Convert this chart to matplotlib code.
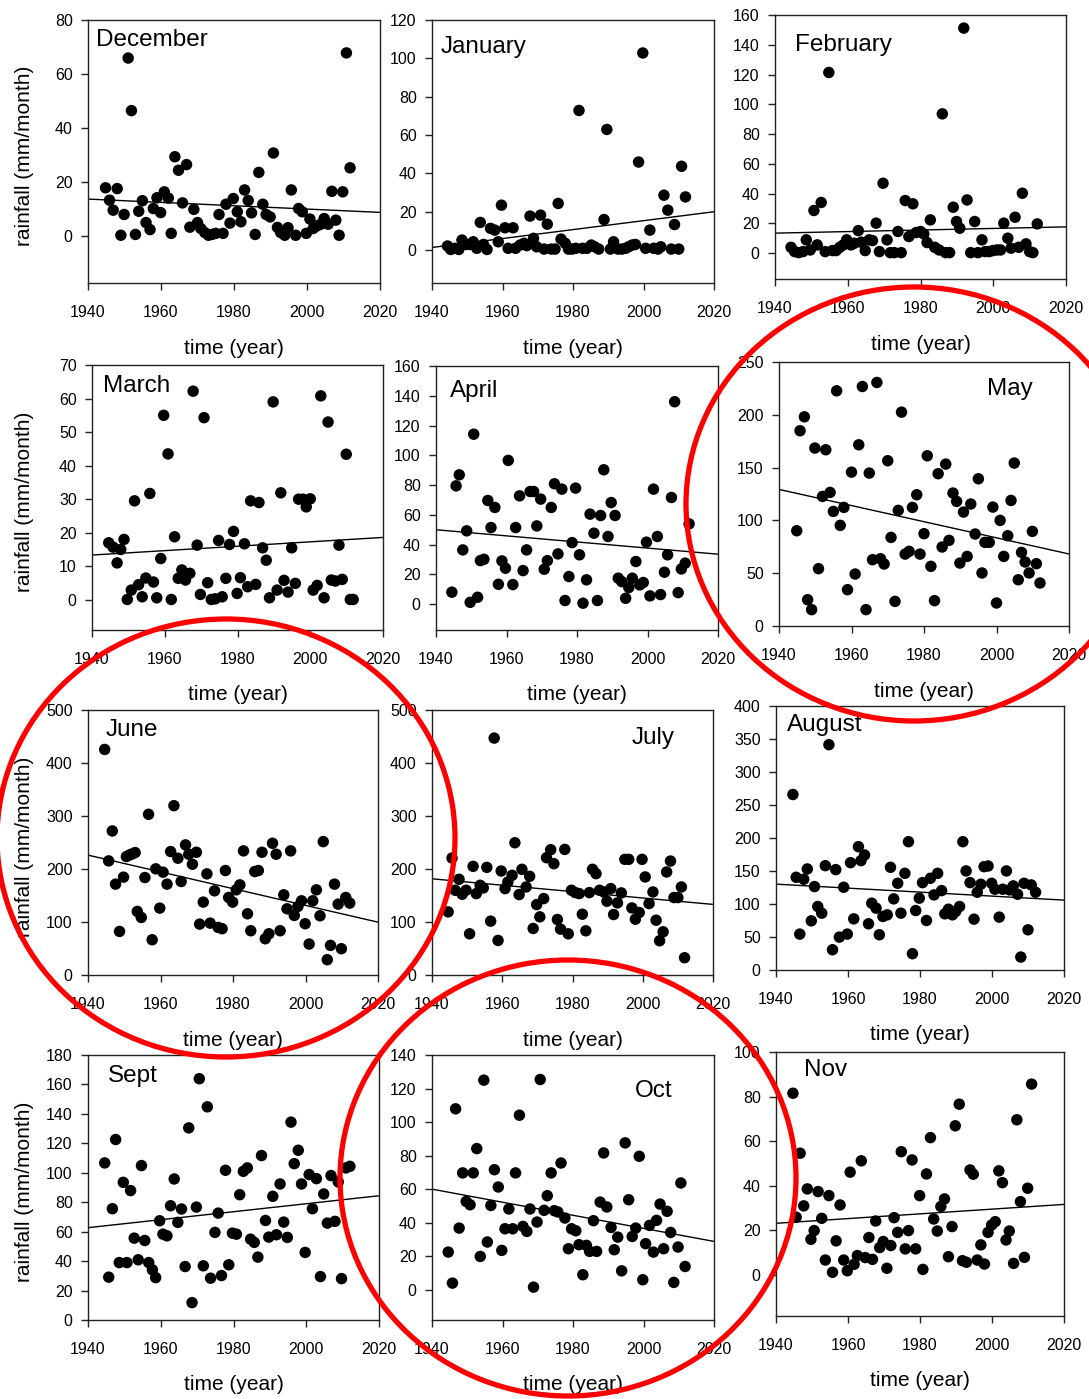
import numpy as np
import matplotlib
matplotlib.use("Agg")
import matplotlib.pyplot as plt
from matplotlib.patches import Ellipse

plt.rcParams['font.family'] = ['Liberation Sans', 'DejaVu Sans']

# ---------------- data (year, rainfall mm/month) ----------------
dec_year = [1944.8,1945.9,1946.9,1948.0,1949.0,1949.9,1951.0,1951.9,1953.0,1953.9,1954.9,1955.9,1957.0,1957.9,1958.9,1959.9,1960.9,1962.0,1962.8,1963.8,1964.8,1965.9,1967.0,1967.9,1969.0,1970.0,1970.9,1972.0,1973.0,1974.0,1975.0,1975.9,1977.0,1977.8,1978.9,1979.8,1980.9,1981.9,1982.9,1983.9,1984.8,1985.8,1986.8,1987.9,1988.8,1989.9,1990.8,1991.9,1992.8,1993.9,1994.8,1995.7,1996.9,1997.7,1998.7,1999.8,2000.8,2001.7,2002.8,2003.8,2004.7,2005.8,2006.8,2007.9,2008.8,2009.8,2010.8,2011.8]
dec_rain = [17.8,13.2,9.5,17.5,0.2,7.9,65.9,46.4,0.5,9.1,13.0,4.9,2.3,10.1,14.1,8.6,16.3,14.0,0.9,29.3,24.3,12.2,26.4,3.2,9.8,4.9,2.7,1.2,0.2,0.5,0.9,7.9,0.9,11.7,4.7,13.8,8.9,5.2,17.0,13.1,8.5,0.5,23.5,11.7,7.9,7.0,30.7,3.1,1.2,0.2,3.0,17.0,0.2,10.1,8.9,0.9,6.2,2.7,3.7,4.3,6.4,4.3,16.5,5.8,0.2,16.3,67.8,25.2]

jan_year = [1944.4,1945.3,1946.5,1947.6,1948.5,1949.7,1950.8,1951.7,1952.7,1953.7,1954.6,1955.6,1956.6,1957.8,1958.8,1959.7,1960.7,1961.6,1963.0,1963.7,1965.0,1966.1,1966.9,1967.8,1968.8,1969.7,1970.8,1971.8,1972.7,1973.8,1974.9,1975.8,1976.6,1977.8,1978.7,1979.7,1980.8,1981.7,1982.7,1983.9,1985.2,1986.1,1987.3,1988.8,1989.6,1990.6,1991.5,1992.8,1993.9,1994.9,1995.8,1996.8,1997.7,1998.6,1999.8,2000.6,2001.8,2002.9,2004.1,2004.9,2005.8,2006.9,2007.9,2008.8,2010.0,2010.8,2011.9]
jan_rain = [2.1,0.3,0.9,0.3,5.2,2.9,2.9,4.3,0.9,14.4,2.9,0.3,11.3,10.4,4.3,23.4,11.6,0.9,11.6,0.9,2.6,3.5,2.3,17.7,6.1,1.7,18.2,0.5,13.5,0.5,0.5,24.3,5.7,3.5,0.5,0.5,0.9,72.8,0.9,0.9,2.6,1.7,0.5,15.9,62.9,0.5,4.3,0.5,0.5,0.9,1.7,2.6,2.9,45.9,102.8,0.9,10.4,0.9,0.5,1.7,28.6,20.8,0.5,13.3,0.5,43.7,27.7]

feb_year = [1944.4,1945.4,1946.5,1947.7,1948.6,1949.7,1950.7,1951.6,1952.7,1953.8,1954.8,1955.8,1956.8,1957.8,1958.8,1959.7,1960.9,1961.8,1962.9,1963.7,1964.8,1965.9,1966.8,1967.8,1968.7,1969.7,1970.8,1971.7,1972.8,1973.8,1974.7,1975.8,1976.8,1977.9,1978.8,1980.0,1980.9,1981.8,1982.7,1983.9,1985.1,1986.0,1986.9,1988.0,1989.0,1989.9,1990.8,1991.9,1992.8,1993.8,1994.9,1995.8,1996.9,1997.8,1998.9,1999.9,2001.0,2002.0,2002.9,2004.0,2004.9,2006.0,2007.0,2008.0,2009.0,2010.0,2010.9,2012.1]
feb_rain = [4.0,1.1,0.4,1.1,9.0,2.2,28.7,5.6,34.1,1.1,121.4,1.8,1.8,4.0,5.6,9.0,5.6,6.7,15.2,7.4,1.8,9.0,8.5,20.2,1.1,47.0,9.0,0.4,0.4,14.6,0.4,35.4,11.2,33.2,13.9,14.6,13.0,7.2,22.4,4.0,2.2,93.6,0.4,0.4,30.9,21.3,16.8,151.2,35.8,0.4,21.3,0.4,9.0,1.1,1.1,1.8,2.2,2.2,20.2,10.1,3.4,24.2,4.0,40.3,6.3,1.1,0.4,19.7]

mar_year = [1944.6,1945.8,1946.9,1947.9,1948.8,1949.7,1950.8,1951.7,1952.8,1953.8,1954.8,1955.9,1956.9,1957.8,1958.9,1959.7,1960.9,1961.8,1962.7,1963.7,1964.7,1965.7,1966.9,1967.8,1968.9,1969.8,1970.8,1971.8,1972.8,1973.9,1974.8,1975.8,1976.8,1977.8,1978.9,1979.9,1980.8,1981.9,1982.8,1983.6,1985.0,1985.9,1986.9,1987.9,1988.8,1989.8,1990.9,1991.9,1992.8,1993.9,1994.9,1995.9,1996.8,1998.0,1998.9,2000.0,2000.8,2001.9,2002.9,2003.8,2004.9,2005.8,2006.9,2007.9,2008.8,2009.9,2011.0,2011.8]
mar_rain = [17.0,15.7,11.0,15.0,18.0,0.1,2.9,29.5,4.5,0.9,6.5,31.7,5.3,0.6,12.3,55.0,43.5,0.1,18.8,6.4,8.9,5.9,7.9,62.2,16.3,1.6,54.3,5.1,0.1,0.3,17.7,0.9,6.4,16.5,20.4,1.9,6.6,16.7,3.9,29.5,4.6,29.0,15.5,11.8,0.6,59.0,2.9,31.9,5.8,2.3,15.5,4.9,30.0,30.0,27.7,30.1,2.9,4.3,60.8,0.6,53.0,5.9,5.6,16.3,6.1,43.4,0.1,0.1]

apr_year = [1944.5,1945.7,1946.6,1947.6,1948.7,1949.7,1950.7,1951.8,1952.6,1953.6,1954.7,1955.6,1956.7,1957.7,1958.7,1959.7,1960.5,1961.8,1962.6,1963.7,1964.7,1965.7,1966.7,1967.7,1968.6,1969.7,1970.7,1971.6,1972.7,1973.6,1974.6,1975.7,1976.6,1977.7,1978.6,1979.6,1980.7,1981.7,1982.7,1983.7,1984.8,1985.8,1986.7,1987.6,1988.8,1989.7,1990.8,1991.7,1992.7,1993.8,1994.7,1995.7,1996.7,1997.8,1998.8,1999.7,2000.7,2001.7,2002.8,2003.7,2004.8,2005.7,2006.8,2007.7,2008.7,2009.6,2010.7,2011.8]
apr_rain = [8.1,79.5,86.9,36.5,49.3,1.3,114.2,4.7,29.3,30.2,69.7,51.5,65.0,13.4,29.1,24.2,96.6,13.2,51.5,72.8,22.6,36.5,75.7,75.7,52.6,70.6,23.5,29.3,65.0,80.9,33.8,77.3,2.5,18.6,41.4,78.0,33.2,0.7,16.4,60.5,47.7,2.5,59.6,90.3,45.5,68.3,59.6,17.5,15.2,4.0,11.2,17.5,28.7,13.0,14.6,41.7,5.6,77.3,45.5,6.5,21.5,33.2,71.7,136.0,7.8,23.7,27.6,54.0]

may_year = [1944.9,1945.8,1947.0,1947.9,1949.0,1949.9,1950.9,1952.0,1952.9,1954.1,1955.0,1955.9,1956.9,1957.9,1958.9,1960.0,1961.0,1962.0,1963.0,1964.0,1964.9,1965.8,1967.0,1968.0,1969.0,1970.0,1970.9,1972.0,1972.9,1973.8,1974.8,1975.9,1976.8,1978.0,1978.9,1980.0,1980.9,1981.9,1982.9,1983.9,1985.0,1986.0,1986.9,1988.0,1989.0,1989.9,1990.9,1991.9,1992.9,1994.1,1995.0,1996.0,1996.8,1998.0,1999.0,2000.0,2001.0,2002.0,2003.1,2004.0,2004.9,2006.0,2006.9,2007.9,2009.0,2009.9,2011.0,2012.0]
may_rain = [90.2,184.9,198.1,24.9,15.5,168.5,54.3,122.7,166.9,126.5,108.5,222.7,95.3,112.3,34.4,145.7,49.2,171.6,226.8,15.5,144.8,62.8,230.6,63.7,58.7,156.5,83.9,23.3,109.5,202.5,68.1,70.7,112.3,124.3,68.1,87.4,161.2,56.5,24.0,144.2,74.8,153.3,81.1,125.9,118.0,59.6,107.9,65.9,115.5,87.1,139.4,50.2,79.2,79.2,112.6,21.8,100.0,65.9,85.5,118.9,154.3,43.8,69.7,60.6,50.2,89.6,59.0,40.7]

jun_year = [1944.6,1945.7,1946.7,1947.6,1948.7,1949.8,1950.6,1951.5,1952.2,1953.0,1953.6,1954.7,1955.7,1956.7,1957.7,1958.7,1959.8,1960.7,1961.8,1962.8,1963.7,1964.8,1965.7,1966.9,1967.8,1968.8,1969.9,1970.8,1971.8,1972.8,1973.7,1974.9,1975.9,1977.0,1977.9,1978.8,1979.9,1980.9,1981.9,1982.9,1984.0,1984.9,1986.0,1987.0,1988.0,1988.9,1989.9,1990.9,1991.9,1993.0,1994.0,1994.9,1995.9,1996.9,1997.9,1998.9,1999.9,2001.0,2002.0,2003.0,2004.0,2004.9,2006.0,2006.9,2008.0,2009.0,2009.9,2011.1,2012.2]
jun_rain = [425.6,215.3,271.8,171.4,82.2,184.6,223.5,226.6,228.5,231.0,119.9,108.6,183.9,303.2,66.5,200.3,126.2,194.0,171.4,232.9,319.5,220.3,176.4,245.5,227.9,209.0,231.6,96.0,137.5,190.8,97.9,158.8,89.8,87.3,197.1,146.3,137.5,160.7,170.1,234.2,115.5,83.5,195.2,197.1,231.6,68.4,77.8,248.6,227.9,83.5,151.3,124.9,234.2,112.4,129.3,140.0,96.7,58.4,140.0,160.7,111.7,251.7,28.9,55.9,171.4,133.7,49.6,146.3,135.6]

jul_year = [1944.6,1945.7,1946.6,1947.7,1948.6,1949.7,1950.7,1951.7,1952.6,1953.7,1954.6,1955.6,1956.7,1957.7,1958.8,1959.7,1960.8,1961.6,1962.8,1963.6,1964.8,1965.6,1966.8,1967.8,1968.8,1969.8,1970.7,1971.8,1972.6,1973.8,1974.7,1975.7,1976.6,1977.8,1978.8,1979.7,1980.8,1981.9,1982.8,1983.8,1984.8,1985.7,1986.7,1987.7,1988.9,1989.8,1990.9,1991.7,1992.8,1993.9,1994.9,1996.0,1996.9,1997.9,1999.0,1999.8,2000.7,2001.8,2002.9,2003.8,2004.8,2005.8,2006.8,2007.9,2008.9,2010.0,2011.0,2011.9]
jul_rain = [119.1,220.7,159.9,180.6,152.4,159.9,77.7,205.0,153.6,169.3,164.3,203.1,101.6,447.0,65.2,196.2,163.0,175.5,188.1,249.5,151.7,199.4,166.1,186.2,87.8,132.9,109.7,144.2,221.3,236.4,210.0,104.7,86.5,237.0,77.7,159.9,155.5,153.6,114.7,83.4,155.5,199.4,191.2,159.9,156.7,139.2,163.0,114.1,136.1,154.9,218.2,218.2,126.6,105.3,117.9,218.2,185.0,134.8,156.7,103.4,64.6,81.5,194.4,215.0,146.1,146.1,166.1,32.6]

aug_year = [1944.7,1945.6,1946.6,1947.7,1948.7,1949.8,1950.7,1951.6,1952.7,1953.7,1954.7,1955.7,1956.6,1957.6,1958.8,1959.8,1960.7,1961.6,1962.9,1963.6,1964.6,1965.7,1966.6,1967.8,1968.7,1969.7,1970.9,1971.8,1972.7,1973.8,1974.7,1975.8,1976.8,1977.9,1978.8,1979.8,1980.7,1981.8,1982.9,1983.9,1984.9,1986.0,1986.9,1987.9,1989.0,1989.9,1991.0,1991.9,1992.8,1993.9,1995.0,1995.9,1996.9,1997.8,1998.9,1999.9,2000.8,2002.0,2003.0,2004.0,2004.9,2005.9,2007.1,2008.0,2008.9,2010.0,2010.9,2012.1]
aug_rain = [265.9,140.5,54.4,137.5,153.1,74.5,126.4,96.2,86.1,158.1,341.4,30.7,152.1,49.8,125.4,54.4,162.6,77.5,186.8,165.7,174.2,70.0,101.2,93.7,53.4,81.1,83.6,155.6,107.8,131.4,86.1,146.5,194.4,24.7,90.1,108.8,132.4,75.0,139.0,113.8,146.5,120.3,85.1,92.1,83.6,88.6,96.2,194.4,150.1,132.4,77.0,117.8,129.9,156.6,157.6,131.4,122.4,80.1,122.4,150.1,121.3,127.4,114.8,19.6,131.4,60.9,128.9,117.8]

sep_year = [1944.6,1945.7,1946.7,1947.6,1948.6,1949.7,1950.7,1951.7,1952.7,1953.8,1954.7,1955.6,1956.7,1957.7,1958.6,1959.7,1960.6,1961.7,1962.7,1963.7,1964.7,1965.7,1966.7,1967.7,1968.6,1969.8,1970.6,1971.7,1972.8,1973.7,1974.9,1975.8,1976.7,1977.8,1978.7,1979.7,1980.8,1981.7,1982.7,1983.8,1984.7,1985.7,1986.7,1987.7,1988.8,1989.7,1990.8,1991.8,1992.8,1993.8,1994.8,1995.8,1996.7,1997.8,1998.7,1999.7,2000.8,2001.7,2002.8,2003.9,2004.8,2005.8,2006.8,2007.9,2008.8,2009.7,2010.9,2012.0]
sep_rain = [106.7,29.1,75.6,122.6,39.0,93.5,39.0,87.9,55.6,40.9,104.9,54.0,39.0,34.1,28.8,67.4,58.3,57.2,77.6,95.8,66.3,75.4,36.3,130.5,11.8,76.7,163.9,36.8,144.8,28.4,59.5,72.6,30.2,101.7,37.5,59.0,58.3,85.1,101.0,103.3,54.9,52.7,42.7,111.7,67.6,56.3,84.0,57.9,92.4,66.5,56.1,134.4,106.2,115.3,92.4,45.9,98.8,75.6,96.0,29.5,85.6,65.8,98.1,67.0,93.8,28.1,103.3,104.4]

oct_year = [1944.6,1945.8,1946.7,1947.7,1948.7,1949.7,1950.8,1951.7,1952.7,1953.7,1954.7,1955.7,1956.7,1957.7,1958.8,1959.8,1960.7,1961.8,1962.9,1963.7,1964.8,1965.8,1966.9,1967.8,1968.8,1969.8,1970.7,1971.8,1972.7,1973.8,1974.7,1975.7,1976.6,1977.7,1978.7,1979.6,1980.8,1981.7,1982.8,1983.8,1984.7,1985.8,1986.7,1987.7,1988.7,1989.6,1990.8,1991.7,1992.7,1993.8,1994.8,1995.8,1996.8,1997.8,1998.8,1999.8,2000.6,2001.7,2002.8,2003.7,2004.7,2005.7,2006.7,2007.7,2008.6,2009.8,2010.6,2011.8]
oct_rain = [22.5,4.0,107.9,36.8,69.7,52.7,50.7,69.7,84.2,19.9,125.0,28.5,50.3,71.6,61.3,23.5,36.4,48.2,36.4,69.7,104.1,37.8,34.8,48.2,1.6,40.4,125.4,47.4,56.1,69.7,47.2,46.4,75.6,42.8,24.5,36.4,35.2,26.9,9.0,26.5,22.9,41.2,22.9,52.3,81.6,49.4,37.2,23.9,31.4,11.3,87.6,53.7,31.8,36.8,79.6,6.0,27.5,38.4,22.5,41.4,51.1,24.5,46.8,34.2,4.4,25.5,63.7,13.9]

nov_year = [1944.7,1945.6,1946.7,1947.7,1948.7,1949.7,1950.6,1951.7,1952.7,1953.7,1954.7,1955.7,1956.7,1957.8,1958.8,1959.8,1960.6,1961.7,1962.6,1963.7,1964.8,1965.8,1966.8,1967.7,1968.8,1969.8,1970.8,1971.9,1972.8,1973.8,1974.8,1975.9,1976.8,1977.8,1978.8,1979.9,1980.8,1981.8,1982.9,1983.8,1984.8,1985.8,1986.8,1987.9,1988.9,1989.8,1990.9,1991.8,1992.9,1993.9,1994.8,1995.9,1996.9,1997.9,1998.9,1999.9,2000.9,2001.9,2002.9,2003.9,2004.8,2006.0,2006.9,2007.9,2009.0,2009.9,2011.0]
nov_rain = [81.5,25.9,54.6,31.0,38.6,16.0,19.9,37.4,25.4,6.7,35.6,1.2,15.3,31.4,6.7,1.9,46.1,4.8,8.7,51.2,7.8,16.8,7.0,24.2,12.3,15.0,3.0,13.2,25.7,19.1,55.3,11.7,19.9,51.6,11.7,35.6,2.5,45.3,61.6,25.1,19.7,30.7,34.1,8.2,21.7,66.9,76.6,6.4,5.7,47.1,45.2,6.7,13.5,4.9,19.1,22.4,23.9,46.7,41.4,15.7,19.7,5.2,69.6,32.9,7.9,38.9,85.6]

month_names = ["December", "January", "February", "March", "April", "May",
               "June", "July", "August", "Sept", "Oct", "Nov"]
x_ticks = [1940, 1960, 1980, 2000, 2020]
y_ticks = [[0, 20, 40, 60, 80], [0, 20, 40, 60, 80, 100, 120],
           [0, 20, 40, 60, 80, 100, 120, 140, 160], [0, 10, 20, 30, 40, 50, 60, 70],
           [0, 20, 40, 60, 80, 100, 120, 140, 160], [0, 50, 100, 150, 200, 250],
           [0, 100, 200, 300, 400, 500], [0, 100, 200, 300, 400, 500],
           [0, 50, 100, 150, 200, 250, 300, 350, 400], [0, 20, 40, 60, 80, 100, 120, 140, 160, 180],
           [0, 20, 40, 60, 80, 100, 120, 140], [0, 20, 40, 60, 80, 100]]
x_label = "time (year)"
y_label = "rainfall (mm/month)"

series = [(dec_year, dec_rain), (jan_year, jan_rain), (feb_year, feb_rain),
          (mar_year, mar_rain), (apr_year, apr_rain), (may_year, may_rain),
          (jun_year, jun_rain), (jul_year, jul_rain), (aug_year, aug_rain),
          (sep_year, sep_rain), (oct_year, oct_rain), (nov_year, nov_rain)]

# ---------------- layout (pixels) ----------------
W, H = 1089, 1399
boxes = [(88, 20, 380, 283), (432, 20, 714, 283), (775, 15, 1066, 279),
         (92, 365, 383, 630), (436, 366, 718, 630), (779, 362, 1069, 626),
         (88, 710, 378, 975), (432, 710, 713, 975), (776, 706, 1064, 970),
         (88, 1055, 379, 1320), (432, 1055, 714, 1320), (776, 1052, 1064, 1316)]
y_bottoms = [-17.5, -17.2, -17.3, -9, -17.3, 0, 0, 0, 0, 0, -18, -18.4]
name_pos = [("l", 8, 20), ("l", 9, 27), ("l", 20, 30), ("l", 11, 21), ("l", 14, 25),
            ("r", 36, 27), ("l", 18, 20), ("r", 38, 28), ("l", 11, 19), ("l", 20, 21),
            ("r", 41, 36), ("l", 28, 18)]

fig = plt.figure(figsize=(W / 100, H / 100), dpi=100)

for i, ((yrs, rain), (L, T, R, B)) in enumerate(zip(series, boxes)):
    assert len(yrs) == len(rain), month_names[i]
    ax = fig.add_axes([L / W, 1 - B / H, (R - L) / W, (B - T) / H])
    yrs = np.array(yrs)
    rain = np.array(rain)
    ax.scatter(yrs, rain, s=68, c="black", edgecolors="none", zorder=3, clip_on=False)
    k, b = np.polyfit(yrs, rain, 1)
    xx = np.array([1940, 2020])
    ax.plot(xx, k * xx + b, color="black", lw=1.0, zorder=2)
    ax.set_xlim(1940, 2020)
    ax.set_ylim(y_bottoms[i], y_ticks[i][-1])
    ax.set_xticks(x_ticks)
    ax.set_yticks(y_ticks[i])
    ax.tick_params(direction="out", length=5, width=1, labelsize=11.5, color="#222222")
    ax.tick_params(axis="x", pad=10.5)
    ax.tick_params(axis="y", pad=6)
    for sp in ax.spines.values():
        sp.set_linewidth(1.0)
        sp.set_color("#222222")
    side, dx, dy = name_pos[i]
    if side == "l":
        ax.annotate(month_names[i], xy=(0, 1), xycoords="axes fraction",
                    xytext=(dx, -dy), textcoords="offset pixels",
                    ha="left", va="center", fontsize=17.5)
    else:
        ax.annotate(month_names[i], xy=(1, 1), xycoords="axes fraction",
                    xytext=(-dx, -dy), textcoords="offset pixels",
                    ha="right", va="center", fontsize=17.5)
    fig.text((L + R) / 2 / W, 1 - (B + 65) / H, x_label, ha="center", va="center", fontsize=15)
    if i % 3 == 0:
        fig.text(25 / W, 1 - ((T + B) / 2 + 4) / H, y_label, rotation=90,
                 ha="center", va="center", fontsize=15)

# red circles
for cx, cy, rx, ry in [(914, 504, 228, 217), (226, 838, 229, 219), (568, 1178, 228, 218)]:
    e = Ellipse((cx / W, 1 - cy / H), 2 * rx / W, 2 * ry / H, transform=fig.transFigure,
                fill=False, edgecolor="#ff0000", lw=3.8, zorder=10)
    fig.add_artist(e)

fig.savefig("out.png", dpi=100)
